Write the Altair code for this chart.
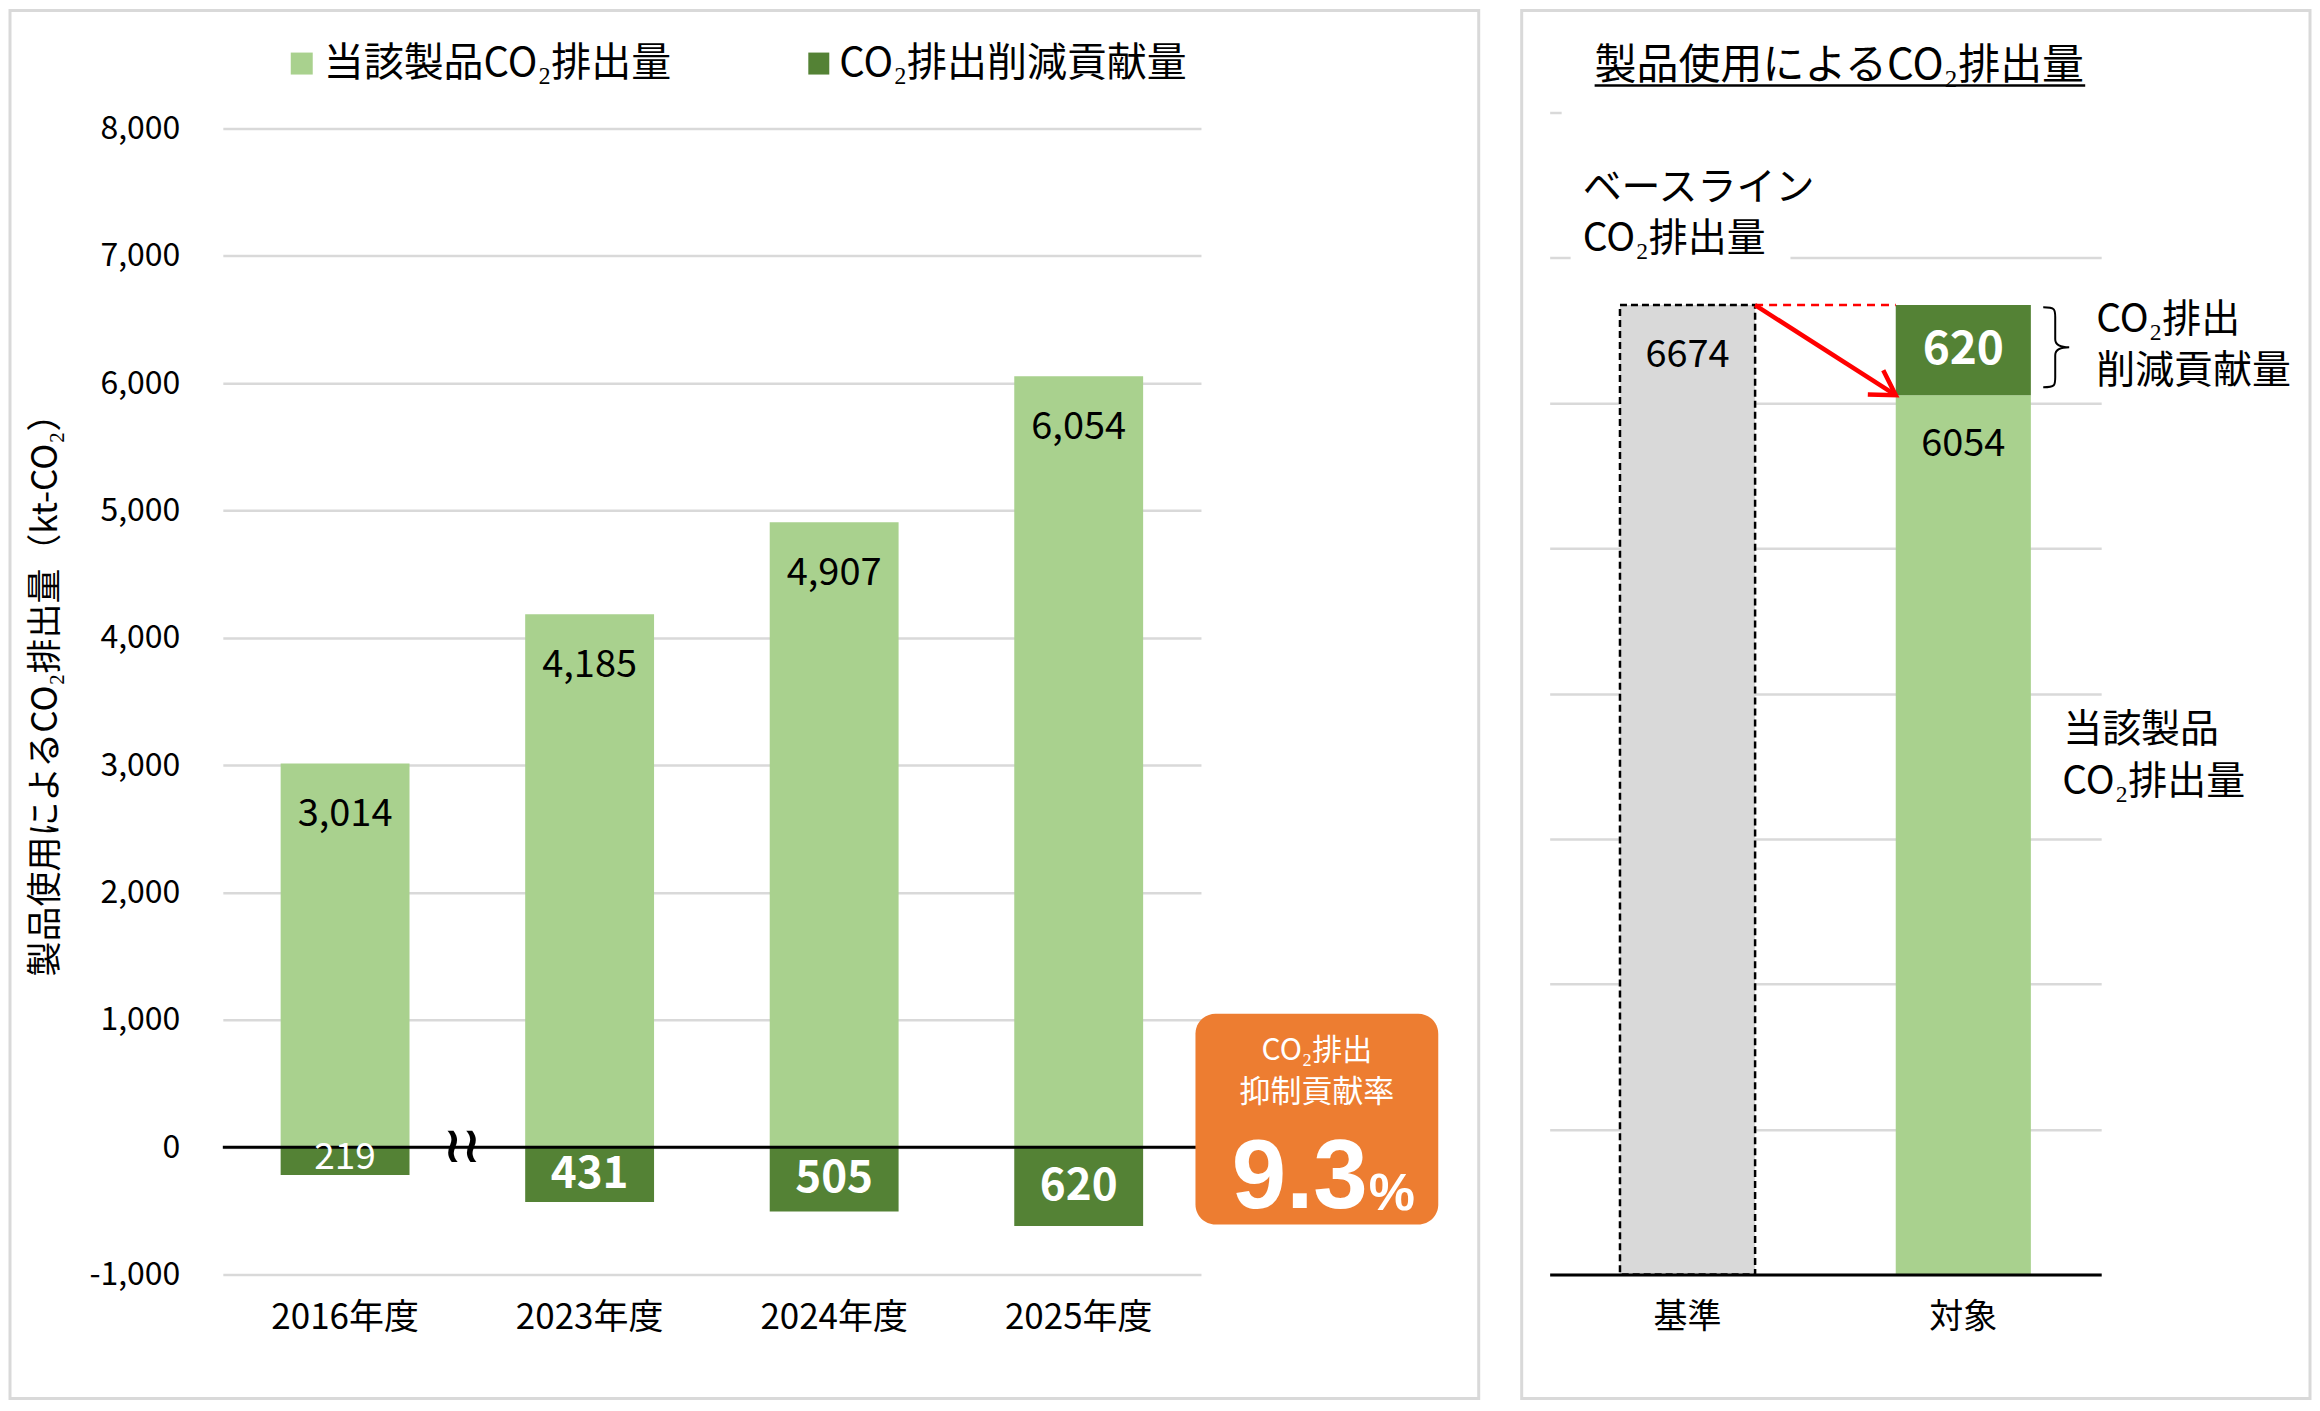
import altair as alt
import pandas as pd

# ---------------- data ----------------
years = ["2016年度", "2023年度", "2024年度", "2025年度"]
product_emissions = [3014, 4185, 4907, 6054]      # 当該製品CO2排出量
reduction_contrib = [219, 431, 505, 620]          # CO2排出削減貢献量
y_ticks_left = [-1000, 0, 1000, 2000, 3000, 4000, 5000, 6000, 7000, 8000]

cmp_categories = ["基準", "対象"]
baseline_emission = 6674
target_product = 6054
target_reduction = 620
y_ticks_right = [0, 1000, 2000, 3000, 4000, 5000, 6000, 7000, 8000]

legend_labels = ["当該製品CO₂排出量", "CO₂排出削減貢献量"]
rate_value = "9.3"

# ---------------- style ----------------
LIGHT = "#A9D18E"
DARK = "#548235"
GRAY = "#D9D9D9"
ORANGE = "#ED7D31"
GRID = "#D9D9D9"
FONT = "Noto Sans CJK JP"
NUMFONT = "Liberation Sans"

one = pd.DataFrame({"_": [0]})


def label(txt, x, y, size, color="black", weight="normal", align="center",
          baseline="middle", font=FONT):
    return alt.Chart(one).mark_text(
        text=txt, fontSize=size, color=color, fontWeight=weight, align=align,
        baseline=baseline, font=font
    ).encode(x=alt.value(x), y=alt.value(y))


def box(x, x2, y, y2, **kw):
    return alt.Chart(one).mark_rect(**kw).encode(
        x=alt.value(x), x2=alt.value(x2), y=alt.value(y), y2=alt.value(y2))


# ---------------- left panel ----------------
# plot area top is 16px above the 8,000 gridline so both panels share one origin
OFF = 16
WL, HL = 979, 1147 + OFF
y_top_left = 8000 + OFF * 9000 / 1147
left_df = pd.DataFrame({"year": years, "emission": product_emissions,
                        "reduction": reduction_contrib})

xsL = alt.Scale(domain=years, paddingInner=0.473, paddingOuter=0.2365)
ysL = alt.Scale(domain=[-1000, y_top_left], nice=False)
xaxL = alt.Axis(title=None, labelAngle=0, labelFontSize=35, labelPadding=26,
                ticks=False, domain=False, grid=False, labelColor="black")
yaxL = alt.Axis(values=y_ticks_left, title="製品使用によるCO₂排出量（kt-CO₂）",
                labelExpr="replace(format(datum.value, ','), '−', '-')",
                labelFontSize=32, labelPadding=43, ticks=False, domain=False,
                gridColor=GRID, gridWidth=2.5, labelColor="black",
                titleFontSize=35, titleFontWeight="normal", titleColor="black",
                titleX=-177, titleY=558 + OFF, titleAngle=270, titleAlign="center",
                titleBaseline="middle")

base = alt.Chart(left_df).transform_calculate(
    neg="-datum.reduction", mid="-datum.reduction/2")
X = alt.X("year:N", scale=xsL, axis=xaxL)

light_bars = base.mark_bar(color=LIGHT).encode(
    x=X, y=alt.Y("emission:Q", scale=ysL, axis=yaxL))
dark_bars = base.mark_bar(color=DARK).encode(
    x=X, y=alt.Y("neg:Q", scale=ysL, axis=yaxL))
zero_rule = alt.Chart(one).mark_rule(color="black", strokeWidth=3).encode(
    y=alt.datum(0))
emis_text = base.mark_text(dy=52, fontSize=38, color="black", baseline="middle").encode(
    x=X, y=alt.Y("emission:Q", scale=ysL, axis=yaxL),
    text=alt.Text("emission:Q", format=","))
red_text_first = base.transform_filter(alt.datum.year == years[0]).mark_text(
    fontSize=37, color="white", baseline="middle", dy=-3).encode(
    x=X, y=alt.Y("mid:Q", scale=ysL, axis=yaxL), text=alt.Text("reduction:Q"))
red_text_rest = base.transform_filter(alt.datum.year != years[0]).mark_text(
    fontSize=44, fontWeight="bold", color="white", baseline="middle").encode(
    x=X, y=alt.Y("mid:Q", scale=ysL, axis=yaxL), text=alt.Text("reduction:Q"))
break_mark = alt.Chart(one).mark_text(
    text="≀≀", fontSize=50, font="DejaVu Sans", fontWeight="bold", color="black",
    dx=117, baseline="middle").encode(x=alt.datum(years[0]), y=alt.datum(0))

rate_box = box(973.5, 1216.5, 886 + OFF, 1097 + OFF, color=ORANGE, cornerRadius=20)
rate_t1 = label("CO₂排出", 1095, 923 + OFF, 30, color="white")
rate_t2 = label("抑制貢献率", 1095, 965 + OFF, 31, color="white")
rate_num = label(rate_value, 1146, 1080 + OFF, 98, color="white", weight="bold",
                 align="right", baseline="alphabetic", font=NUMFONT)
rate_pct = label("%", 1147, 1082 + OFF, 52, color="white", weight="bold",
                 align="left", baseline="alphabetic", font=NUMFONT)

leg_sq1 = box(68, 90, -76 + OFF, -54 + OFF, color=LIGHT)
leg_t1 = label(legend_labels[0], 101, -65 + OFF, 40, align="left")
leg_sq2 = box(586, 607, -76 + OFF, -54 + OFF, color=DARK)
leg_t2 = label(legend_labels[1], 617, -65 + OFF, 40, align="left")

border_L = box(-213, 1257, -102, 1287, fillOpacity=0, stroke=GRID, strokeWidth=3)

left = alt.layer(
    border_L, light_bars, dark_bars, zero_rule, emis_text, red_text_first,
    red_text_rest, break_mark, rate_box, rate_t1, rate_t2, rate_num, rate_pct,
    leg_sq1, leg_t1, leg_sq2, leg_t2
).properties(width=WL, height=HL)

# ---------------- right panel ----------------
WR, HR = 552, 1163
xsR = alt.Scale(domain=cmp_categories, paddingInner=0.51, paddingOuter=0.255)
ysR = alt.Scale(domain=[0, 8000], nice=False)
xaxR = alt.Axis(title=None, labelAngle=0, labelFontSize=34, labelPadding=26,
                ticks=False, domainColor="black", domainWidth=3, grid=False,
                labelColor="black", zindex=1)
yaxR = alt.Axis(values=y_ticks_right, title=None, labels=False, ticks=False,
                domain=False, gridColor=GRID, gridWidth=2.5)

base_df = pd.DataFrame({"cat": [cmp_categories[0]], "v": [baseline_emission]})
prod_df = pd.DataFrame({"cat": [cmp_categories[1]], "v": [target_product]})
red_df = pd.DataFrame({"cat": [cmp_categories[1]], "v0": [target_product],
                       "v1": [target_product + target_reduction]})
arrow_df = pd.DataFrame({"from": [cmp_categories[0]], "to": [cmp_categories[1]],
                         "y_from": [baseline_emission], "y_to": [target_product]})

XR = alt.X("cat:N", scale=xsR, axis=xaxR)
gray_bar = alt.Chart(base_df).mark_bar(
    color=GRAY, stroke="black", strokeDash=[7, 4], strokeWidth=2.5).encode(
    x=XR, y=alt.Y("v:Q", scale=ysR, axis=yaxR))
prod_bar = alt.Chart(prod_df).mark_bar(color=LIGHT).encode(
    x=XR, y=alt.Y("v:Q", scale=ysR, axis=yaxR))
red_bar = alt.Chart(red_df).mark_bar(color=DARK).encode(
    x=XR, y=alt.Y("v0:Q", scale=ysR, axis=yaxR), y2="v1:Q")
base_text = alt.Chart(base_df).mark_text(dy=51, fontSize=38, color="black").encode(
    x=XR, y=alt.Y("v:Q", scale=ysR, axis=yaxR), text="v:Q")
prod_text = alt.Chart(prod_df).mark_text(dy=50, fontSize=38, color="black").encode(
    x=XR, y=alt.Y("v:Q", scale=ysR, axis=yaxR), text="v:Q")
red_text = alt.Chart(red_df).transform_calculate(
    mid="(datum.v0 + datum.v1) / 2", amount="datum.v1 - datum.v0").mark_text(
    fontSize=46, fontWeight="bold", color="white", baseline="middle").encode(
    x=XR, y=alt.Y("mid:Q", scale=ysR, axis=yaxR), text="amount:Q")

dash_rule = alt.Chart(arrow_df).mark_rule(
    color="#FF0000", strokeDash=[8, 6], strokeWidth=2.5).encode(
    x=alt.X("from:N", scale=xsR, axis=xaxR, bandPosition=1),
    x2=alt.X2("to", bandPosition=0),
    y=alt.Y("y_from:Q", scale=ysR, axis=yaxR))
arrow_line = alt.Chart(arrow_df).mark_rule(color="#FF0000", strokeWidth=4.5).encode(
    x=alt.X("from:N", scale=xsR, axis=xaxR, bandPosition=1),
    x2=alt.X2("to", bandPosition=0),
    y=alt.Y("y_from:Q", scale=ysR, axis=yaxR), y2="y_to:Q")
arrow_head = alt.Chart(arrow_df).mark_point(
    shape="M-1,-0.6L0,0L-1,0.6", filled=False, stroke="#FF0000", strokeWidth=4.5,
    size=2300, angle=32.5, opacity=1, strokeJoin="miter").encode(
    x=alt.X("to:N", scale=xsR, axis=xaxR, bandPosition=0),
    y=alt.Y("y_to:Q", scale=ysR, axis=yaxR))

brace_path = ("M-0.35,-1 C-0.05,-1 -0.05,-0.95 -0.05,-0.75 L-0.05,-0.2 "
              "C-0.05,-0.05 0.1,0 0.3,0 C0.1,0 -0.05,0.05 -0.05,0.2 "
              "L-0.05,0.75 C-0.05,0.95 -0.05,1 -0.35,1")
brace = alt.Chart(one).mark_point(
    shape=brace_path, filled=False, stroke="black", strokeWidth=2, size=6400,
    opacity=1).encode(x=alt.value(508), y=alt.value(235))

cover8 = box(12, 560, -4, 4, color="white")
cover7 = box(21, 241, 140, 151, color="white")

title_R = label("製品使用によるCO₂排出量", 45, -47, 42, align="left")
title_ul = alt.Chart(one).mark_rule(color="black", strokeWidth=2.5).encode(
    x=alt.value(45), x2=alt.value(536), y=alt.value(-27))
t_base1 = label("ベースライン", 33, 76, 39, align="left")
t_base2 = label("CO₂排出量", 33, 127, 39, align="left")
t_red1 = label("CO₂排出", 547, 208, 39, align="left")
t_red2 = label("削減貢献量", 547, 259, 39, align="left")
t_prod1 = label("当該製品", 514, 618, 39, align="left")
t_prod2 = label("CO₂排出量", 513, 670, 39, align="left")

border_R = box(-28, 761, -102, 1287, fillOpacity=0, stroke=GRID, strokeWidth=3)

right = alt.layer(
    border_R, cover8, cover7, gray_bar, prod_bar, red_bar, base_text, prod_text,
    red_text, dash_rule, arrow_line, arrow_head, brace, title_R, title_ul,
    t_base1, t_base2, t_red1, t_red2, t_prod1, t_prod2
).properties(width=WR, height=HR)

chart = alt.hconcat(left, right, spacing=39, padding=0).configure_view(
    strokeWidth=0
).configure_axis(labelFont=FONT, titleFont=FONT).configure_text(font=FONT)

chart.save("out.html", embed_options={"renderer": "svg", "actions": False})
